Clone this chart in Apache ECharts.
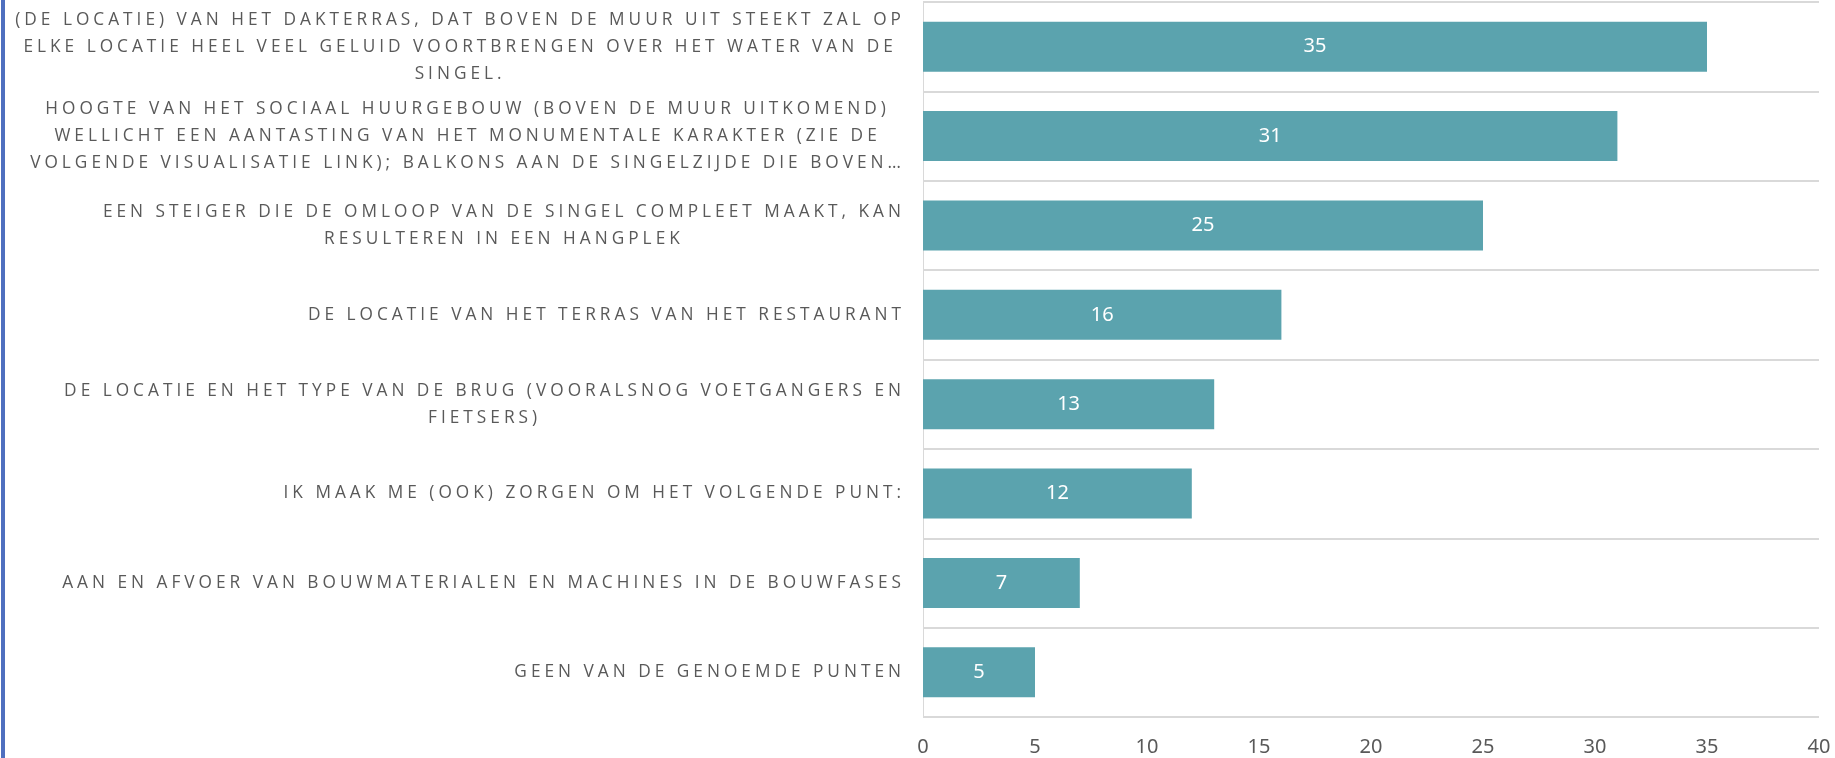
<!DOCTYPE html>
<html>
<head>
<meta charset="utf-8">
<script src="https://cdn.jsdelivr.net/npm/echarts@6/dist/echarts.min.js"></script>
<style>
  html, body { margin: 0; padding: 0; background: #fff; }
  #chart { width: 1835px; height: 758px; }
</style>
</head>
<body>
<div id="chart"></div>
<script>
const categories = [
  '(DE LOCATIE) VAN HET DAKTERRAS, DAT BOVEN DE MUUR UIT STEEKT ZAL OP\nELKE LOCATIE HEEL VEEL GELUID VOORTBRENGEN OVER HET WATER VAN DE\nSINGEL.',
  'HOOGTE VAN HET SOCIAAL HUURGEBOUW (BOVEN DE MUUR UITKOMEND)\nWELLICHT EEN AANTASTING VAN HET MONUMENTALE KARAKTER (ZIE DE\nVOLGENDE VISUALISATIE LINK); BALKONS AAN DE SINGELZIJDE DIE BOVEN…',
  'EEN STEIGER DIE DE OMLOOP VAN DE SINGEL COMPLEET MAAKT, KAN\nRESULTEREN IN EEN HANGPLEK',
  'DE LOCATIE VAN HET TERRAS VAN HET RESTAURANT',
  'DE LOCATIE EN HET TYPE VAN DE BRUG (VOORALSNOG VOETGANGERS EN\nFIETSERS)',
  'IK MAAK ME (OOK) ZORGEN OM HET VOLGENDE PUNT:',
  'AAN EN AFVOER VAN BOUWMATERIALEN EN MACHINES IN DE BOUWFASES',
  'GEEN VAN DE GENOEMDE PUNTEN'
];
const counts = [35, 31, 25, 16, 13, 12, 7, 5];

// spaced-out capitals like the original: give the label font letter spacing
// both when echarts measures the text and when it draws it
const labelFont = 'Open Sans';
function spacingFor(font) {
  return font && font.indexOf(labelFont) >= 0 ? '4px' : '0px';
}
const measureCtx = document.createElement('canvas').getContext('2d');
echarts.setPlatformAPI({
  measureText: function (text, font) {
    measureCtx.font = font;
    measureCtx.letterSpacing = spacingFor(font);
    return measureCtx.measureText(text);
  }
});
const fillText = CanvasRenderingContext2D.prototype.fillText;
CanvasRenderingContext2D.prototype.fillText = function (t, x, y, w) {
  this.letterSpacing = spacingFor(this.font);
  return w === undefined ? fillText.call(this, t, x, y) : fillText.call(this, t, x, y, w);
};

const chart = echarts.init(document.getElementById('chart'), null, { renderer: 'canvas' });

const option = {
  animation: false,
  backgroundColor: '#fff',
  graphic: [
    {
      type: 'rect',
      left: 1,
      top: 0,
      shape: { width: 4, height: 758 },
      style: { fill: '#4f6fbf' }
    }
  ],
  grid: {
    left: 923,
    right: 16,
    top: 2,
    bottom: 41,
    containLabel: false
  },
  xAxis: {
    type: 'value',
    min: 0,
    max: 40,
    interval: 5,
    axisLine: { show: false },
    axisTick: { show: false },
    splitLine: { show: false },
    axisLabel: {
      color: '#595959',
      fontFamily: 'Noto Sans',
      fontSize: 20,
      margin: 20
    }
  },
  yAxis: {
    type: 'category',
    inverse: true,
    data: categories,
    axisLine: { show: true, lineStyle: { color: '#d9d9d9', width: 1 } },
    axisTick: { show: false },
    splitLine: { show: true, lineStyle: { color: '#d9d9d9', width: 2 } },
    axisLabel: {
      margin: 18,
      color: '#595959',
      fontFamily: labelFont,
      fontSize: 17.25,
      lineHeight: 27,
      formatter: function (value) {
        return value.split('\n').map(function (line) {
          return '{c|' + line + '}';
        }).join('\n');
      },
      rich: {
        c: {
          align: 'center',
          color: '#595959',
          fontFamily: labelFont,
          fontSize: 17.25,
          lineHeight: 27
        }
      }
    }
  },
  series: [
    {
      type: 'bar',
      data: counts,
      barCategoryGap: '44%',
      itemStyle: { color: '#5ba3ae' },
      label: {
        show: true,
        position: 'inside',
        color: '#fff',
        fontFamily: 'Noto Sans',
        fontSize: 20
      }
    }
  ]
};

chart.setOption(option);
</script>
</body>
</html>
